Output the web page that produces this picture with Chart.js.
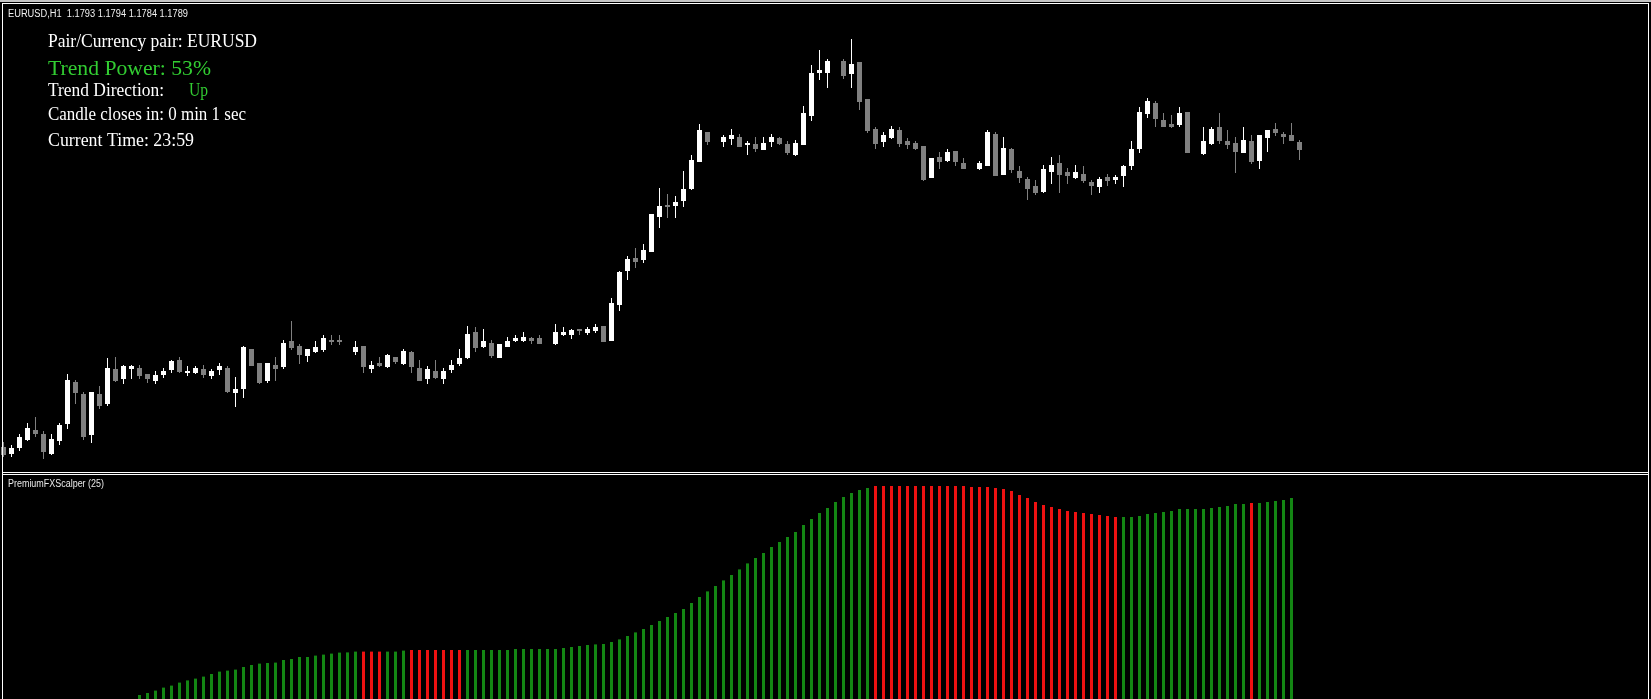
<!DOCTYPE html>
<html>
<head>
<meta charset="utf-8">
<script src="https://cdn.jsdelivr.net/npm/chart.js@4.4.0/dist/chart.umd.min.js"></script>
<style>
  html, body { margin: 0; padding: 0; background: #000; overflow: hidden; }
  #wrap { position: relative; width: 1651px; height: 699px; }
</style>
</head>
<body>
<div id="wrap"><canvas id="myChart" width="1651" height="699"></canvas></div>
<script>
const Chart = window.Chart;

// EURUSD H1 candles, oldest first (null = empty slot on the chart)
const opens = [
  1.16405, 1.16370, 1.16400, 1.16440, 1.16490, 1.16470, 1.16370, 1.16435, 1.16520, 1.16730,
  1.16670, 1.16465, 1.16670, 1.16620, 1.16795, 1.16745, 1.16795, 1.16800, 1.16770, 1.16735,
  1.16765, 1.16790, 1.16840, 1.16775, 1.16775, 1.16795, 1.16760, 1.16790, 1.16800, 1.16675,
  1.16695, 1.16895, 1.16825, 1.16735, 1.16815, 1.16805, 1.16935, 1.16910, 1.16860, 1.16880,
  1.16890, 1.16940, 1.16940, null, 1.16880, 1.16910, 1.16795, 1.16825, 1.16805, 1.16855,
  1.16820, 1.16880, 1.16800, 1.16745, 1.16785, 1.16745, 1.16790, 1.16820, 1.16850, 1.16980,
  1.16905, 1.16925, 1.16850, 1.16905, 1.16935, 1.16935, 1.16950, 1.16950, null, 1.16920,
  1.16965, 1.16965, 1.16995, 1.16975, 1.16985, 1.17010, 1.16935, 1.17115, 1.17285, 1.17350,
  1.17340, 1.17380, 1.17555, 1.17615, 1.17610, 1.17635, 1.17695, 1.17830, 1.17980, null,
  1.17930, 1.17945, 1.17955, 1.17915, 1.17920, 1.17890, 1.17930, 1.17950, 1.17920, 1.17865,
  1.17915, 1.18060, 1.18275, 1.18275, null, 1.18335, 1.18270, 1.18330, 1.18145, 1.17995,
  1.17930, 1.17950, 1.17990, 1.17935, 1.17925, 1.17910, 1.17750, 1.17855, 1.17835, 1.17885,
  1.17825, null, 1.17795, 1.17810, 1.17970, 1.17765, 1.17895, 1.17785, 1.17745, 1.17710,
  1.17680, 1.17780, 1.17825, 1.17780, 1.17750, 1.17770, 1.17730, 1.17705, 1.17755, 1.17740,
  1.17760, 1.17810, 1.17895, 1.18070, 1.18125, 1.18040, 1.18020, 1.18015, 1.18080, null,
  1.17870, 1.17920, 1.18005, 1.17935, 1.17925, 1.17875, 1.17935, 1.17835, 1.17950, 1.17995,
  1.17970, 1.17965, 1.1793
];
const highs = [
  1.16430, 1.16415, 1.16470, 1.16525, 1.16555, 1.16485, 1.16470, 1.16525, 1.16770, 1.16740,
  1.16680, 1.16680, 1.16710, 1.16850, 1.16855, 1.16815, 1.16815, 1.16815, 1.16770, 1.16785,
  1.16800, 1.16840, 1.16855, 1.16810, 1.16810, 1.16815, 1.16795, 1.16825, 1.16810, 1.16755,
  1.16910, 1.16895, 1.16825, 1.16825, 1.16855, 1.16940, 1.17035, 1.16920, 1.16895, 1.16935,
  1.16965, 1.16965, 1.16965, null, 1.16935, 1.16910, 1.16835, 1.16855, 1.16870, 1.16855,
  1.16895, 1.16885, 1.16840, 1.16810, 1.16840, 1.16800, 1.16840, 1.16895, 1.17010, 1.17005,
  1.16995, 1.16940, 1.16920, 1.16955, 1.16965, 1.16980, 1.16955, 1.16965, null, 1.17020,
  1.17005, 1.16995, 1.16995, 1.17005, 1.17020, 1.17010, 1.17150, 1.17285, 1.17360, 1.17400,
  1.17420, 1.17570, 1.17700, 1.17670, 1.17660, 1.17785, 1.17865, 1.18020, 1.17980, null,
  1.17965, 1.17995, 1.17970, 1.17935, 1.17955, 1.17955, 1.17970, 1.17955, 1.17935, 1.17940,
  1.18110, 1.18315, 1.18390, 1.18345, null, 1.18345, 1.18445, 1.18330, 1.18145, 1.18005,
  1.17980, 1.18010, 1.18005, 1.17950, 1.17935, 1.17910, 1.17850, 1.17880, 1.17895, 1.17885,
  1.17850, null, 1.17835, 1.17990, 1.17980, 1.17955, 1.17900, 1.17810, 1.17755, 1.17740,
  1.17815, 1.17855, 1.17865, 1.17800, 1.17815, 1.17810, 1.17740, 1.17755, 1.17770, 1.17765,
  1.17815, 1.17935, 1.18105, 1.18150, 1.18135, 1.18075, 1.18065, 1.18105, 1.18080, null,
  1.18005, 1.18005, 1.18075, 1.17990, 1.17955, 1.18005, 1.17965, 1.17965, 1.17990, 1.18025,
  1.17980, 1.18025, 1.1794
];
const lows = [
  1.16355, 1.16355, 1.16385, 1.16435, 1.16455, 1.16345, 1.16365, 1.16415, 1.16495, 1.16620,
  1.16440, 1.16425, 1.16595, 1.16610, 1.16730, 1.16720, 1.16745, 1.16745, 1.16725, 1.16720,
  1.16750, 1.16775, 1.16775, 1.16760, 1.16770, 1.16750, 1.16745, 1.16765, 1.16675, 1.16605,
  1.16650, 1.16810, 1.16720, 1.16725, 1.16735, 1.16795, 1.16890, 1.16820, 1.16830, 1.16875,
  1.16880, 1.16915, 1.16915, null, 1.16865, 1.16775, 1.16775, 1.16805, 1.16800, 1.16820,
  1.16815, 1.16775, 1.16735, 1.16720, 1.16745, 1.16720, 1.16775, 1.16810, 1.16845, 1.16880,
  1.16900, 1.16850, 1.16850, 1.16905, 1.16930, 1.16930, 1.16920, 1.16920, null, 1.16915,
  1.16960, 1.16945, 1.16965, 1.16965, 1.16975, 1.16930, 1.16935, 1.17085, 1.17240, 1.17300,
  1.17325, 1.17380, 1.17500, 1.17550, 1.17550, 1.17605, 1.17690, 1.17830, 1.17915, null,
  1.17905, 1.17915, 1.17905, 1.17865, 1.17880, 1.17890, 1.17905, 1.17915, 1.17865, 1.17860,
  1.17915, 1.18035, 1.18240, 1.18200, null, 1.18245, 1.18200, 1.18090, 1.17975, 1.17895,
  1.17905, 1.17945, 1.17905, 1.17895, 1.17890, 1.17735, 1.17750, 1.17795, 1.17830, 1.17810,
  1.17795, null, 1.17790, 1.17810, 1.17760, 1.17765, 1.17775, 1.17725, 1.17640, 1.17665,
  1.17675, 1.17720, 1.17675, 1.17720, 1.17745, 1.17725, 1.17665, 1.17675, 1.17710, 1.17720,
  1.17705, 1.17790, 1.17875, 1.18050, 1.18005, 1.18005, 1.18000, 1.18005, 1.17875, null,
  1.17865, 1.17915, 1.17920, 1.17895, 1.17775, 1.17875, 1.17820, 1.17795, 1.17880, 1.17960,
  1.17920, 1.17935, 1.1784
];
const closes = [
  1.16365, 1.16400, 1.16455, 1.16500, 1.16470, 1.16380, 1.16445, 1.16515, 1.16740, 1.16675,
  1.16455, 1.16680, 1.16610, 1.16800, 1.16735, 1.16810, 1.16810, 1.16760, 1.16745, 1.16765,
  1.16785, 1.16835, 1.16780, 1.16785, 1.16800, 1.16765, 1.16785, 1.16810, 1.16680, 1.16695,
  1.16905, 1.16810, 1.16725, 1.16825, 1.16795, 1.16925, 1.16900, 1.16865, 1.16895, 1.16905,
  1.16950, 1.16930, 1.16930, null, 1.16905, 1.16805, 1.16815, 1.16810, 1.16865, 1.16830,
  1.16885, 1.16805, 1.16735, 1.16795, 1.16750, 1.16785, 1.16815, 1.16850, 1.16970, 1.16900,
  1.16935, 1.16860, 1.16920, 1.16935, 1.16950, 1.16955, 1.16935, 1.16920, null, 1.16980,
  1.16980, 1.16990, 1.16985, 1.16995, 1.17005, 1.16930, 1.17125, 1.17280, 1.17345, 1.17330,
  1.17390, 1.17570, 1.17610, 1.17605, 1.17630, 1.17695, 1.17840, 1.17990, 1.17930, null,
  1.17955, 1.17965, 1.17905, 1.17925, 1.17895, 1.17925, 1.17955, 1.17920, 1.17875, 1.17925,
  1.18075, 1.18275, 1.18290, 1.18335, null, 1.18260, 1.18320, 1.18130, 1.17985, 1.17920,
  1.17965, 1.17995, 1.17920, 1.17915, 1.17895, 1.17740, 1.17850, 1.17830, 1.17880, 1.17830,
  1.17795, null, 1.17825, 1.17980, 1.17760, 1.17900, 1.17790, 1.17750, 1.17695, 1.17675,
  1.17795, 1.17815, 1.17765, 1.17760, 1.17780, 1.17735, 1.17710, 1.17745, 1.17735, 1.17755,
  1.17810, 1.17895, 1.18080, 1.18135, 1.18045, 1.18005, 1.18005, 1.18075, 1.17875, null,
  1.17935, 1.17995, 1.17935, 1.17915, 1.17880, 1.17940, 1.17830, 1.17965, 1.17990, 1.17975,
  1.17955, 1.17935, 1.1789
];

// PremiumFXScalper (25) histogram, one value per bar (null = below the window)
const scalper = [
  null, null, null, null, null, null, null, null, null, null,
  null, null, null, null, null, null, null, 2, 3, 4.2,
  5.7, 6.7, 8.2, 9.3, 10.2, 11.2, 12.5, 13.7, 14.2, 14.7,
  16, 17, 17.7, 18, 18.2, 19.5, 20, 21, 21, 21.7,
  22.2, 22.7, 23.2, 23.3, 23.7, 23.7, 23.7, 23.7, 23.7, 23.7,
  24.2, 24.5, 24.5, 24.5, 24.5, 24.5, 24.5, 24.5, 24.5, 24.5,
  24.5, 24.5, 24.5, 24.5, 25, 25, 25, 25, 25, 25,
  25.5, 26, 26.5, 27, 27.3, 27.5, 28.5, 29.8, 31.5, 33.3,
  35, 37, 39, 41, 43, 45, 48, 51, 53.8, 56.5,
  59.3, 62, 64.8, 67.8, 70.5, 73, 76, 78.5, 81, 83.5,
  87, 90, 93, 95.5, 98.5, 101, 103, 104.5, 105.5, 106.5,
  106.5, 106.5, 106.5, 106.5, 106.5, 106.5, 106.5, 106.5, 106.5, 106.5,
  106.5, 106, 106, 106, 105.5, 105, 104, 102, 100.5, 98.5,
  97, 96, 95, 94, 93.5, 93, 92.5, 92, 91.5, 91,
  91, 91, 91.5, 92.5, 93, 93.5, 94, 95, 95, 95,
  95, 95.5, 96, 96.5, 97.5, 97.5, 98, 98, 98.5, 99,
  99.5, 100.5, null
];
// bars where the histogram is painted red (first and last index)
const scalperRed = [[45, 47], [51, 57], [109, 139], [156, 156]];

const headerText = 'EURUSD,H1  1.1793 1.1794 1.1784 1.1789';
const indicatorName = 'PremiumFXScalper (25)';

const WHITE = '#ffffff';
const GREY = '#808080';
const LIME = '#32cd32';

const wickData = [];
const bodyData = [];
const candleColors = [];
opens.forEach((o, k) => {
  if (o === null) return;
  wickData.push({ x: k, y: [lows[k], highs[k]] });
  bodyData.push({ x: k, y: [o, closes[k]] });
  candleColors.push(closes[k] >= o ? WHITE : GREY);
});

const isRed = k => scalperRed.some(([a, b]) => k >= a && k <= b);
const scalperData = [];
const scalperColors = [];
scalper.forEach((v, k) => {
  if (v === null) return;
  scalperData.push({ x: k, y: v });
  scalperColors.push(isRed(k) ? '#ee1111' : '#138613');
});

// draw text squeezed/stretched to the width it has in the terminal
function fitText(ctx, text, x, y, width, font, color) {
  ctx.save();
  ctx.font = font;
  const w = ctx.measureText(text).width;
  ctx.translate(x, y);
  ctx.scale(width / w, 1);
  ctx.fillStyle = color;
  ctx.textBaseline = 'alphabetic';
  ctx.fillText(text, 0, 0);
  ctx.restore();
}

const terminalFrame = {
  id: 'terminalFrame',
  afterDraw(chart) {
    const ctx = chart.ctx;
    ctx.save();
    ctx.fillStyle = '#c4c4c4';
    ctx.fillRect(0, 0, 1651, 2);
    ctx.fillStyle = '#ffffff';
    ctx.fillRect(2, 3, 1647, 1);       // top of main window
    ctx.fillRect(2, 3, 1, 696);        // left
    ctx.fillRect(1648, 3, 1, 696);     // right
    ctx.fillRect(2, 472, 1647, 1);     // splitter
    ctx.fillRect(2, 474, 1647, 1);
    ctx.restore();

    const serif = '"Liberation Serif", "DejaVu Serif", serif';
    const sans = '"Liberation Sans", "DejaVu Sans", sans-serif';
    fitText(ctx, headerText, 8, 17, 180, '10px ' + sans, '#f0f0f0');
    fitText(ctx, 'Pair/Currency pair: EURUSD', 48, 47, 209, '18px ' + serif, WHITE);
    fitText(ctx, 'Trend Power: 53%', 48, 75, 163, '22px ' + serif, LIME);
    fitText(ctx, 'Trend Direction:', 48, 96, 116, '18px ' + serif, WHITE);
    fitText(ctx, 'Up', 189, 96, 19, '18px ' + serif, LIME);
    fitText(ctx, 'Candle closes in: 0 min 1 sec', 48, 120, 198, '18px ' + serif, WHITE);
    fitText(ctx, 'Current Time: 23:59', 48, 146, 146, '18px ' + serif, WHITE);
    fitText(ctx, indicatorName, 8, 487, 96, '10px ' + sans, '#e8e8e8');
  }
};

new Chart(document.getElementById('myChart').getContext('2d'), {
  type: 'bar',
  data: {
    datasets: [
      {
        label: 'wicks',
        data: wickData,
        backgroundColor: candleColors,
        barThickness: 1,
        yAxisID: 'y',
        order: 2
      },
      {
        label: 'bodies',
        data: bodyData,
        backgroundColor: candleColors,
        barThickness: 5,
        yAxisID: 'y',
        order: 1
      },
      {
        label: indicatorName,
        data: scalperData,
        backgroundColor: scalperColors,
        barThickness: 3,
        yAxisID: 'y2',
        order: 3
      }
    ]
  },
  options: {
    responsive: false,
    animation: false,
    events: [],
    layout: { padding: 0 },
    datasets: {
      bar: { grouped: false, inflateAmount: 0, borderWidth: 0, clip: false }
    },
    plugins: {
      legend: { display: false },
      tooltip: { enabled: false }
    },
    scales: {
      x: { type: 'linear', offset: false, min: -0.4375, max: 205.9375, display: false },
      y: { min: 1.1864 - 0.00005 * 699, max: 1.1864, display: false },
      y2: { min: 0, max: 349.5, display: false }
    }
  },
  plugins: [terminalFrame]
});
</script>
</body>
</html>
